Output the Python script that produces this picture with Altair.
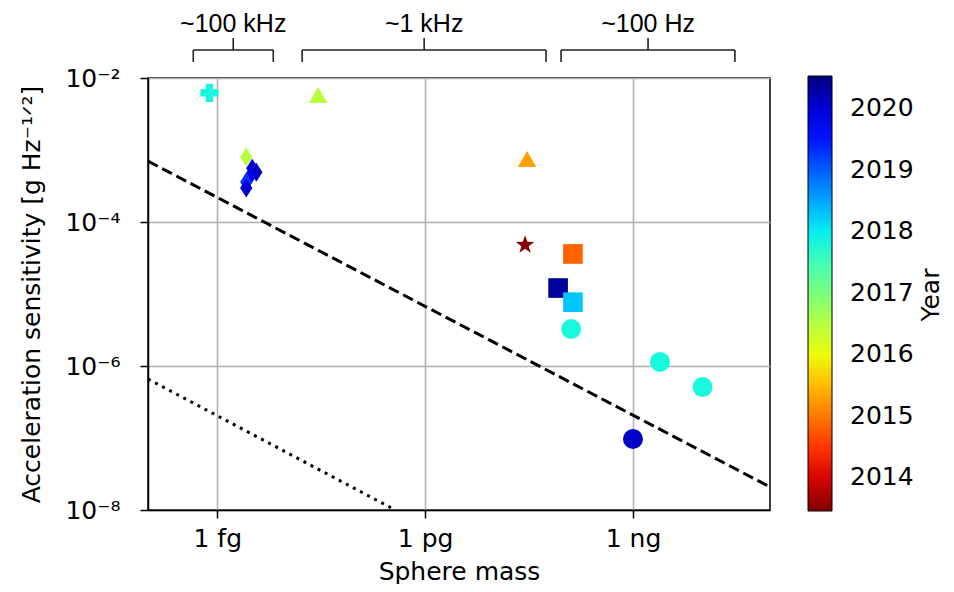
import altair as alt
import pandas as pd
import numpy as np

# ---------------- data ----------------
marker = ["cross", "triangle", "diamond", "diamond", "diamond", "diamond", "diamond", "diamond",
          "triangle", "star", "square", "square", "square", "circle", "circle", "circle", "circle"]
mass_g = [7.7e-16, 2.86e-14, 2.62e-15, 3.2e-15, 3.66e-15, 2.99e-15, 2.62e-15, 2.62e-15,
          2.96e-11, 2.77e-11, 1.36e-10, 8.3e-11, 1.36e-10, 1.28e-10, 2.45e-9, 1.01e-8, 1.0e-9]
accel = [6.2e-3, 5.8e-3, 8.0e-4, 5.6e-4, 4.9e-4, 4.35e-4, 3.6e-4, 2.97e-4,
         7.5e-4, 4.8e-5, 3.6e-5, 1.21e-5, 7.7e-6, 3.27e-6, 1.14e-6, 5.1e-7, 9.7e-8]
year = [2017.85, 2016.45, 2016.45, 2020.0, 2020.1, 2019.9, 2019.3, 2020.0,
        2015.3, 2013.5, 2014.83, 2020.35, 2018.26, 2017.83, 2017.83, 2017.83, 2020.09]

dashed_mass = [1.0e-16, 9.5e-8]
dashed_acc = [7.0e-4, 2.09e-8]
dotted_mass = [1.0e-16, 3.7e-13]
dotted_acc = [6.6e-7, 1.0e-8]

br_labels = ["~100 kHz", "~1 kHz", "~100 Hz"]
br_left = [4.5e-16, 1.68e-14, 9.16e-11]
br_right = [6.43e-15, 5.56e-11, 2.96e-8]
br_center = [1.70e-15, 9.68e-13, 1.65e-9]

x_ticks = [1e-15, 1e-12, 1e-9]
y_ticks = [1e-8, 1e-6, 1e-4, 1e-2]
year_ticks = [2014, 2015, 2016, 2017, 2018, 2019, 2020]
year_min, year_max = 2013.45, 2020.52

# ---------------- jet colour map (reversed: early = dark red) ----------------
def jet(v):
    r = np.interp(v, [0, 0.35, 0.66, 0.89, 1], [0, 0, 1, 1, 0.5])
    g = np.interp(v, [0, 0.125, 0.375, 0.64, 0.91, 1], [0, 0, 1, 1, 0, 0])
    b = np.interp(v, [0, 0.11, 0.34, 0.65, 1], [0.5, 1, 1, 0, 0])
    return "#%02x%02x%02x" % (int(round(r * 255)), int(round(g * 255)), int(round(b * 255)))

ts = np.linspace(0, 1, 29)
c_domain = [float(year_min + t * (year_max - year_min)) for t in ts]
c_range = [jet(1 - t) for t in ts]

# ---------------- symbol shapes ----------------
pts = []
for k in range(10):
    ang = np.deg2rad(-90 + k * 36)
    rad = 1.0 if k % 2 == 0 else 0.4
    pts.append((rad * np.cos(ang), rad * np.sin(ang)))
star_path = "M" + "L".join("%.3f,%.3f" % p for p in pts) + "Z"
thin_diamond = "M0,-1L0.65,0L0,1L-0.65,0Z"

shape_domain = ["cross", "triangle", "diamond", "star", "square", "circle"]
shape_range = ["cross", "triangle-up", thin_diamond, star_path, "square", "circle"]
size_range = [330, 400, 500, 330, 340, 360]

pts_df = pd.DataFrame({"mass": mass_g, "acc": accel, "year": year, "marker": marker})
dash_df = pd.DataFrame({"mass": dashed_mass, "acc": dashed_acc})
dot_df = pd.DataFrame({"mass": dotted_mass, "acc": dotted_acc})
br_df = pd.DataFrame({"label": br_labels, "left": br_left, "right": br_right, "center": br_center})
year_df = pd.DataFrame({"t": ["Year"]})

FONT = "DejaVu Sans"

xscale = alt.Scale(type="log", domain=[1.0e-16, 9.5e-8], nice=False)
yscale = alt.Scale(type="log", domain=[1e-8, 1e-2], nice=False)

x_label_expr = ("round(log(datum.value)/LN10) == -15 ? '1 fg' : "
                "round(log(datum.value)/LN10) == -12 ? '1 pg' : "
                "round(log(datum.value)/LN10) == -9 ? '1 ng' : ''")
y_label_expr = ("round(log(datum.value)/LN10) == -2 ? '10⁻²' : "
                "round(log(datum.value)/LN10) == -4 ? '10⁻⁴' : "
                "round(log(datum.value)/LN10) == -6 ? '10⁻⁶' : "
                "round(log(datum.value)/LN10) == -8 ? '10⁻⁸' : ''")

x_axis = alt.Axis(values=x_ticks, labelExpr=x_label_expr, title="Sphere mass",
                  grid=True, labelPadding=8, titlePadding=8)
y_axis = alt.Axis(values=y_ticks, labelExpr=y_label_expr,
                  title="Acceleration sensitivity [g Hz⁻¹ᐟ²]",
                  grid=True, labelPadding=20, titlePadding=20)

dashed = alt.Chart(dash_df).mark_line(color="black", strokeWidth=3, strokeDash=[11, 5], clip=True).encode(
    x=alt.X("mass:Q", scale=xscale, axis=x_axis),
    y=alt.Y("acc:Q", scale=yscale, axis=y_axis),
)
dotted = alt.Chart(dot_df).mark_line(color="black", strokeWidth=3, strokeDash=[3, 5], clip=True).encode(
    x=alt.X("mass:Q", scale=xscale),
    y=alt.Y("acc:Q", scale=yscale),
)

points = alt.Chart(pts_df).mark_point(filled=True, opacity=1, strokeWidth=0).encode(
    x=alt.X("mass:Q", scale=xscale),
    y=alt.Y("acc:Q", scale=yscale),
    color=alt.Color("year:Q",
                    scale=alt.Scale(domain=c_domain, range=c_range, interpolate="rgb"),
                    legend=alt.Legend(title=None, orient="none", legendX=660, legendY=-2,
                                      direction="vertical", gradientLength=435,
                                      gradientThickness=24, gradientStrokeColor="black",
                                      gradientStrokeWidth=1, values=year_ticks, format="d",
                                      labelFontSize=25, labelFont=FONT, labelColor="black",
                                      labelOffset=18, padding=0, labelOverlap=False)),
    shape=alt.Shape("marker:N", scale=alt.Scale(domain=shape_domain, range=shape_range), legend=None),
    size=alt.Size("marker:N", scale=alt.Scale(domain=shape_domain, range=size_range), legend=None),
)

BR_COLOR = "#222222"
br_h = alt.Chart(br_df).mark_rule(color=BR_COLOR, strokeWidth=1.6).encode(
    x=alt.X("left:Q", scale=xscale), x2="right:Q", y=alt.value(-28))
br_l = alt.Chart(br_df).mark_rule(color=BR_COLOR, strokeWidth=1.6).encode(
    x=alt.X("left:Q", scale=xscale), y=alt.value(-28), y2=alt.value(-16))
br_r = alt.Chart(br_df).mark_rule(color=BR_COLOR, strokeWidth=1.6).encode(
    x=alt.X("right:Q", scale=xscale), y=alt.value(-28), y2=alt.value(-16))
br_c = alt.Chart(br_df).mark_rule(color=BR_COLOR, strokeWidth=1.6).encode(
    x=alt.X("center:Q", scale=xscale), y=alt.value(-40), y2=alt.value(-28))
br_t = alt.Chart(br_df).mark_text(font="Liberation Sans", fontSize=25, color="black",
                                  baseline="middle", align="center").encode(
    x=alt.X("center:Q", scale=xscale), y=alt.value(-54), text="label:N")

year_title = alt.Chart(year_df).mark_text(font=FONT, fontSize=25, color="black", angle=270,
                                          baseline="middle", align="center").encode(
    x=alt.value(783), y=alt.value(217), text="t:N")

chart = alt.layer(dashed, dotted, points, br_h, br_l, br_r, br_c, br_t, year_title).properties(
    width=622, height=432,
    background="white",
    autosize=alt.AutoSizeParams(type="none"),
    padding={"left": 140, "top": 70, "right": 176, "bottom": 74},
).configure_view(stroke="black", strokeWidth=1.5).configure_axis(
    labelFont=FONT, titleFont=FONT, labelFontSize=25, titleFontSize=25,
    titleFontWeight="normal", labelColor="black", titleColor="black",
    domainColor="black", domainWidth=1.5, tickColor="black", tickWidth=1.5, tickSize=8,
    gridColor="#b0b0b0", gridWidth=1.5,
)

chart.save("out.html", embed_options={"renderer": "svg", "actions": False})
